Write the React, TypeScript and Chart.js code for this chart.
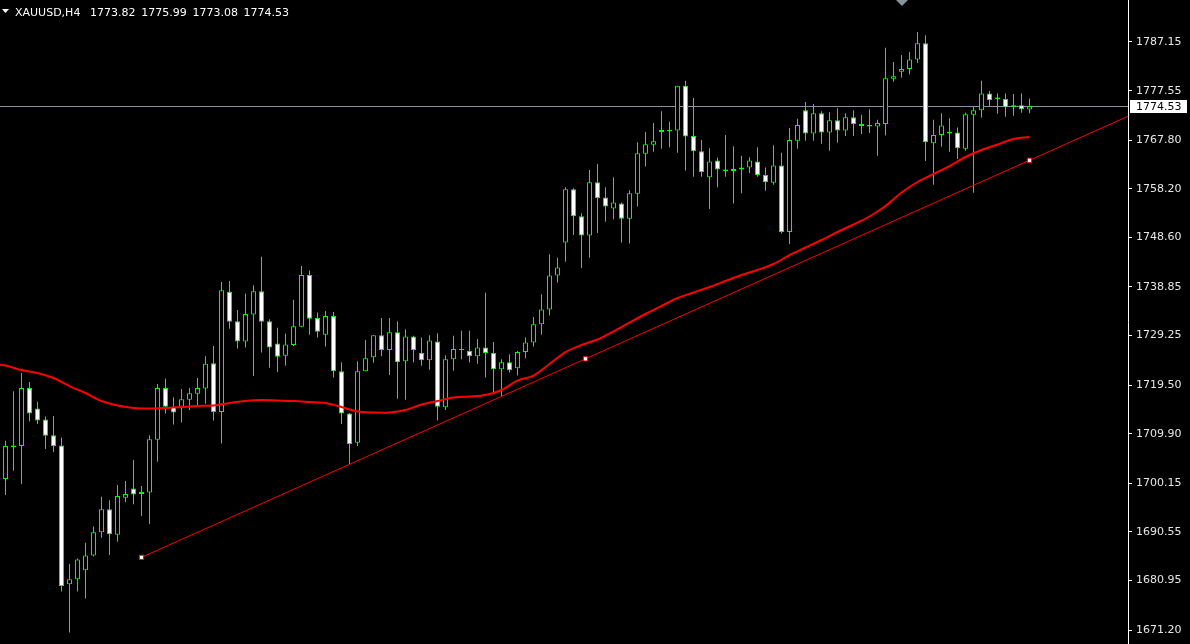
import { useEffect, useRef } from 'react';
import { Chart, registerables } from 'chart.js';

Chart.register(...registerables);

const symbolTitle = 'XAUUSD,H4';
const headerValues = ['1773.82', '1775.99', '1773.08', '1774.53'];

const opens = [
  1701.0, 1707.3, 1707.5, 1718.9, 1714.9, 1712.7, 1709.6, 1707.6, 1680.2, 1681.2,
  1683.0, 1685.9, 1690.5, 1695.0, 1690.0, 1697.3, 1699.1, 1698.0, 1698.3, 1708.7,
  1718.9, 1715.2, 1715.2, 1716.6, 1717.8, 1718.8, 1723.8, 1714.2, 1737.9, 1732.1,
  1728.1, 1733.4, 1738.0, 1732.1, 1727.7, 1725.3, 1727.4, 1731.0, 1741.2, 1732.7,
  1729.4, 1733.1, 1722.2, 1713.9, 1708.1, 1722.2, 1725.0, 1729.3, 1726.4, 1729.9,
  1724.2, 1729.1, 1725.8, 1724.4, 1728.1, 1715.1, 1724.6, 1726.4, 1726.2, 1725.2,
  1726.9, 1725.8, 1722.6, 1724.0, 1722.8, 1726.0, 1727.9, 1731.5, 1734.4, 1741.1,
  1747.6, 1758.1, 1752.8, 1749.0, 1759.5, 1756.5, 1754.3, 1755.3, 1752.3, 1757.2,
  1765.1, 1766.9, 1769.4, 1769.6, 1769.7, 1778.5, 1768.6, 1765.6, 1760.5, 1763.8,
  1761.7, 1761.7, 1762.0, 1762.4, 1763.6, 1760.9, 1759.4, 1762.8, 1749.7, 1767.7,
  1773.7, 1769.1, 1773.1, 1769.3, 1771.7, 1769.7, 1772.3, 1770.6, 1770.8, 1770.5,
  1771.0, 1779.9, 1781.3, 1781.8, 1783.7, 1786.9, 1767.2, 1768.8, 1769.1, 1769.3,
  1766.1, 1772.8, 1773.7, 1777.0, 1776.2, 1775.9, 1774.3, 1774.7, 1773.82,
];
const highs = [
  1708.5, 1718.3, 1721.9, 1720.1, 1716.2, 1713.3, 1713.4, 1709.1, 1684.2, 1685.3,
  1688.4, 1691.6, 1697.5, 1696.8, 1699.8, 1700.6, 1704.7, 1699.6, 1709.6, 1719.7,
  1720.8, 1717.1, 1718.7, 1718.9, 1720.9, 1725.2, 1727.2, 1739.8, 1740.0, 1734.3,
  1737.5, 1739.2, 1744.8, 1732.5, 1730.8, 1729.6, 1736.3, 1743.0, 1742.1, 1733.8,
  1734.1, 1733.9, 1724.0, 1714.0, 1724.2, 1728.4, 1729.3, 1732.7, 1732.7, 1732.1,
  1730.5, 1729.2, 1728.9, 1729.3, 1729.7, 1725.4, 1729.2, 1730.2, 1730.2, 1728.6,
  1737.7, 1728.0, 1724.6, 1725.6, 1726.2, 1728.9, 1732.9, 1737.4, 1745.3, 1744.6,
  1758.5, 1758.3, 1753.4, 1761.9, 1763.1, 1758.5, 1760.5, 1755.5, 1757.9, 1767.4,
  1769.4, 1771.2, 1773.5, 1771.4, 1778.5, 1779.5, 1776.1, 1767.8, 1766.2, 1764.3,
  1768.8, 1766.6, 1764.7, 1764.4, 1766.4, 1762.4, 1766.8, 1765.3, 1770.2, 1772.0,
  1775.3, 1774.9, 1773.5, 1773.3, 1774.1, 1773.1, 1773.7, 1772.8, 1773.9, 1771.8,
  1786.0, 1783.2, 1784.6, 1785.2, 1789.1, 1788.5, 1771.8, 1773.1, 1772.1, 1770.3,
  1773.2, 1774.5, 1779.5, 1777.5, 1777.0, 1777.0, 1776.9, 1777.0, 1775.99,
];
const lows = [
  1697.8, 1702.6, 1700.0, 1712.3, 1711.8, 1706.9, 1706.3, 1678.8, 1670.7, 1678.8,
  1677.4, 1685.7, 1689.4, 1686.0, 1688.6, 1696.4, 1696.0, 1693.7, 1692.1, 1704.4,
  1713.9, 1711.7, 1712.1, 1714.6, 1715.5, 1715.8, 1712.5, 1708.0, 1730.6, 1726.7,
  1726.9, 1721.3, 1725.9, 1722.9, 1722.1, 1723.3, 1727.2, 1730.9, 1729.4, 1728.9,
  1727.1, 1721.0, 1711.8, 1703.9, 1707.5, 1722.2, 1723.9, 1725.2, 1721.5, 1716.8,
  1716.6, 1724.0, 1723.3, 1722.5, 1712.5, 1714.6, 1722.3, 1724.6, 1724.0, 1723.7,
  1721.0, 1717.7, 1717.3, 1722.0, 1721.4, 1724.8, 1727.1, 1729.4, 1733.2, 1739.7,
  1743.8, 1749.1, 1742.6, 1744.6, 1749.5, 1751.7, 1752.2, 1747.6, 1747.4, 1754.7,
  1762.6, 1765.5, 1766.1, 1766.4, 1765.3, 1761.8, 1760.6, 1760.6, 1754.2, 1758.5,
  1760.6, 1755.3, 1757.3, 1761.3, 1760.6, 1757.8, 1759.0, 1749.4, 1747.3, 1766.1,
  1767.7, 1767.7, 1767.1, 1765.7, 1767.3, 1768.6, 1768.6, 1769.0, 1769.2, 1764.7,
  1768.7, 1779.3, 1780.1, 1780.8, 1783.0, 1763.7, 1759.0, 1766.5, 1765.5, 1764.1,
  1765.7, 1757.4, 1772.2, 1774.4, 1773.0, 1772.4, 1772.6, 1773.2, 1773.08,
];
const closes = [
  1707.5, 1707.6, 1718.9, 1713.9, 1712.5, 1709.5, 1707.5, 1679.9, 1681.2, 1685.1,
  1685.9, 1690.5, 1695.0, 1690.1, 1697.6, 1698.0, 1697.9, 1698.4, 1708.8, 1718.9,
  1715.2, 1714.1, 1716.7, 1717.9, 1718.9, 1723.7, 1714.2, 1738.2, 1732.0, 1728.1,
  1733.5, 1738.0, 1732.0, 1726.9, 1725.1, 1727.5, 1731.1, 1741.2, 1732.6, 1730.0,
  1733.1, 1722.2, 1713.9, 1707.9, 1722.2, 1724.8, 1729.3, 1726.4, 1729.9, 1724.0,
  1729.1, 1726.4, 1724.4, 1728.3, 1715.2, 1724.6, 1726.6, 1726.6, 1725.2, 1726.9,
  1725.8, 1722.6, 1724.0, 1722.4, 1726.0, 1727.9, 1731.5, 1734.4, 1741.1, 1742.7,
  1758.1, 1752.8, 1749.0, 1759.5, 1756.4, 1754.7, 1755.5, 1752.3, 1757.3, 1765.2,
  1767.0, 1767.6, 1769.8, 1769.8, 1778.5, 1768.5, 1765.6, 1761.5, 1763.6, 1762.0,
  1762.0, 1762.1, 1762.4, 1763.8, 1760.9, 1759.5, 1762.8, 1749.7, 1767.8, 1770.8,
  1769.1, 1773.1, 1769.3, 1771.7, 1769.7, 1772.3, 1771.0, 1771.0, 1770.5, 1771.2,
  1780.0, 1780.4, 1781.8, 1783.7, 1786.9, 1767.4, 1768.8, 1770.7, 1769.4, 1766.2,
  1772.9, 1773.7, 1777.0, 1775.7, 1775.9, 1774.3, 1774.7, 1773.9, 1774.53,
];

// Moving average (red) read at these bar indices
const maIndex = [
  -1, 0, 2, 4, 6, 8, 10, 12, 14, 16, 18, 20, 22, 24, 26, 28, 30, 32, 34, 36, 38, 40,
  42, 44, 46, 48, 50, 52, 54, 56, 58, 60, 62, 64, 66, 68, 70, 72, 74, 76, 78, 80, 82,
  84, 86, 88, 90, 92, 94, 96, 98, 100, 102, 104, 106, 108, 110, 112, 114, 116, 118,
  120, 122, 124, 126, 128,
];
const maValues = [
  1723.6, 1723.35, 1722.46, 1721.87, 1720.89, 1719.3, 1717.93, 1716.35, 1715.47,
  1714.97, 1714.88, 1714.97, 1715.17, 1715.37, 1715.47, 1715.96, 1716.35, 1716.55,
  1716.45, 1716.35, 1716.16, 1715.96, 1715.17, 1714.28, 1714.09, 1714.09, 1714.58,
  1715.66, 1716.35, 1717.04, 1717.24, 1717.53, 1718.52, 1720.39, 1721.38, 1723.65,
  1726.01, 1727.4, 1728.48, 1730.06, 1731.83, 1733.51, 1735.09, 1736.66, 1737.75,
  1738.83, 1740.02, 1741.2, 1742.19, 1743.37, 1745.14, 1746.62, 1748.1, 1749.68,
  1751.16, 1752.74, 1754.81, 1757.47, 1759.54, 1761.12, 1762.69, 1764.47, 1765.85,
  1766.93, 1768.02, 1768.41,
];

// Trend line anchors (bar index, price)
const trendIndex = [17, 128];
const trendPrice = [1685.53, 1763.82];

const yTicks = [
  1787.15, 1777.55, 1767.8, 1758.2, 1748.6, 1738.85, 1729.25, 1719.5, 1709.9,
  1700.15, 1690.55, 1680.95, 1671.2,
];
const bidPrice = 1774.53;
const shiftMarkerIndex = 112;

const Y_MIN = 1668.44;
const Y_MAX = 1795.43;
const X_MIN = -0.6875;
const X_MAX = 140.3125;

const FONT = '"DejaVu Sans", sans-serif';

export default function App() {
  const ref = useRef<HTMLCanvasElement>(null);

  useEffect(() => {
    const canvas = ref.current;
    if (!canvas) return;

    const wickData = lows.map((l, i) => ({ x: i, y: [l, highs[i]] }));
    const bodyData = opens.map((o, i) => ({ x: i, y: [o, closes[i]] }));
    const bodyColors = opens.map((o, i) => (closes[i] < o ? '#ffffff' : '#000000'));
    const maData = maIndex.map((x, i) => ({ x, y: maValues[i] }));
    const slope = (trendPrice[1] - trendPrice[0]) / (trendIndex[1] - trendIndex[0]);
    const trendData = [
      { x: trendIndex[0], y: trendPrice[0] },
      { x: X_MAX, y: trendPrice[0] + (X_MAX - trendIndex[0]) * slope },
    ];
    const markerData = [
      { x: trendIndex[0], y: trendPrice[0] },
      { x: (trendIndex[0] + trendIndex[1]) / 2, y: (trendPrice[0] + trendPrice[1]) / 2 },
      { x: trendIndex[1], y: trendPrice[1] },
    ];

    const decor = {
      id: 'mt4decor',
      beforeDraw(chart: any) {
        const ctx = chart.ctx;
        ctx.save();
        ctx.fillStyle = '#000000';
        ctx.fillRect(0, 0, chart.width, chart.height);
        ctx.restore();
      },
      beforeDatasetsDraw(chart: any) {
        const { ctx, chartArea, scales } = chart;
        const y = Math.round(scales.y.getPixelForValue(bidPrice)) + 0.5;
        ctx.save();
        ctx.strokeStyle = '#8a939c';
        ctx.lineWidth = 1;
        ctx.beginPath();
        ctx.moveTo(chartArea.left, y);
        ctx.lineTo(chartArea.right, y);
        ctx.stroke();
        ctx.restore();
      },
      afterDraw(chart: any) {
        const { ctx, chartArea, scales } = chart;
        ctx.save();
        // bid price label
        const y = Math.round(scales.y.getPixelForValue(bidPrice));
        ctx.fillStyle = '#ffffff';
        ctx.fillRect(chartArea.right + 2, y - 6, 57, 13);
        ctx.fillStyle = '#000000';
        ctx.font = `11px ${FONT}`;
        ctx.textBaseline = 'middle';
        ctx.textAlign = 'left';
        ctx.fillText(bidPrice.toFixed(2), chartArea.right + 8, y + 1);

        // header
        ctx.fillStyle = '#ffffff';
        ctx.beginPath();
        ctx.moveTo(2, 9);
        ctx.lineTo(9, 9);
        ctx.lineTo(5.5, 13);
        ctx.closePath();
        ctx.fill();
        ctx.textBaseline = 'alphabetic';
        ctx.fillText(symbolTitle, 15, 16);
        headerValues.forEach((v, i) => ctx.fillText(v, 90 + i * 51.2, 16));

        // chart shift marker
        const sx = Math.round(scales.x.getPixelForValue(shiftMarkerIndex));
        ctx.fillStyle = '#8a939c';
        ctx.beginPath();
        ctx.moveTo(sx - 6, 0);
        ctx.lineTo(sx + 6, 0);
        ctx.lineTo(sx, 6);
        ctx.closePath();
        ctx.fill();
        ctx.restore();
      },
    };

    const chart = new Chart(canvas, {
      type: 'bar',
      data: {
        datasets: [
          {
            type: 'bar',
            data: wickData as any,
            backgroundColor: '#00ff00',
            borderWidth: 0,
            barThickness: 1,
            grouped: false,
            inflateAmount: 0,
            order: 5,
          } as any,
          {
            type: 'bar',
            data: bodyData as any,
            backgroundColor: bodyColors,
            borderColor: '#00ff00',
            borderWidth: 1,
            borderSkipped: false,
            barThickness: 5,
            grouped: false,
            inflateAmount: 0,
            minBarLength: 1,
            order: 4,
          } as any,
          {
            type: 'line',
            data: maData as any,
            borderColor: '#ff0000',
            borderWidth: 2,
            pointRadius: 0,
            tension: 0.3,
            order: 3,
          } as any,
          {
            type: 'line',
            data: trendData as any,
            borderColor: '#ff0000',
            borderWidth: 1,
            pointRadius: 0,
            order: 2,
          } as any,
          {
            type: 'line',
            data: markerData as any,
            showLine: false,
            pointStyle: 'rect',
            pointRadius: 3,
            pointBackgroundColor: '#ffffff',
            pointBorderColor: '#ff0000',
            pointBorderWidth: 1,
            order: 1,
          } as any,
        ],
      },
      options: {
        animation: false,
        responsive: false,
        devicePixelRatio: 1,
        layout: { padding: 0, autoPadding: false },
        plugins: {
          legend: { display: false },
          tooltip: { enabled: false },
        },
        events: [],
        scales: {
          x: {
            type: 'linear',
            display: false,
            min: X_MIN,
            max: X_MAX,
            offset: false,
            grid: { display: false },
          },
          y: {
            type: 'linear',
            position: 'right',
            min: Y_MIN,
            max: Y_MAX,
            afterBuildTicks: (s: any) => {
              s.ticks = yTicks.map((v) => ({ value: v }));
            },
            afterFit: (s: any) => {
              s.width = 62;
              s.paddingTop = 0;
              s.paddingBottom = 0;
            },
            ticks: {
              autoSkip: false,
              color: '#e6e6e6',
              font: { family: FONT, size: 11 },
              padding: 4,
              callback: (v: any) => Number(v).toFixed(2),
            },
            grid: {
              display: true,
              drawOnChartArea: false,
              drawTicks: true,
              tickLength: 4,
              color: '#ffffff',
            },
            border: { display: true, color: '#ffffff', width: 1 },
          },
        },
      } as any,
      plugins: [decor],
    });

    return () => chart.destroy();
  }, []);

  return (
    <div
      style={{
        position: 'fixed',
        left: 0,
        top: 0,
        width: 1190,
        height: 644,
        background: '#000000',
      }}
    >
      <canvas ref={ref} width={1190} height={644} style={{ display: 'block', width: 1190, height: 644 }} />
    </div>
  );
}
